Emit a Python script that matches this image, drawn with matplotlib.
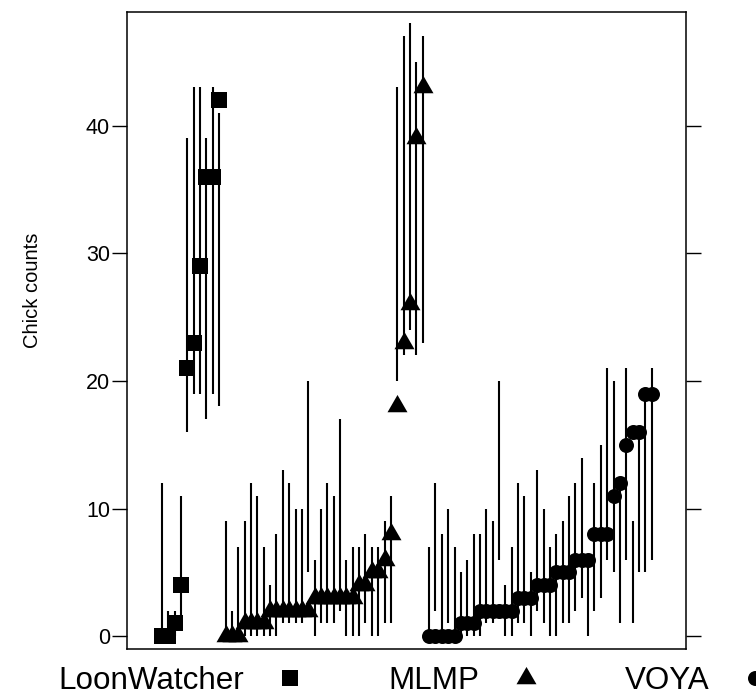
import matplotlib.pyplot as plt
import numpy as np
from matplotlib.lines import Line2D

plt.rcParams['font.family'] = ['Liberation Sans', 'DejaVu Sans']

groups = ['LoonWatcher', 'MLMP', 'VOYA']

# observed counts, sorted within group, with lower / upper interval
loon_obs = [0, 0, 1, 4, 21, 23, 29, 36, 36, 42]
loon_lo = [0, 0, 0, 1, 16, 19, 19, 17, 19, 18]
loon_hi = [12, 2, 2, 11, 39, 43, 43, 39, 43, 41]

mlmp_obs = [0, 0, 0, 1, 1, 1, 1, 2, 2, 2, 2, 2, 2, 2, 3, 3, 3, 3, 3, 3, 3,
            4, 4, 5, 5, 6, 8, 18, 23, 26, 39, 43]
mlmp_lo = [0, 0, 0, 0, 0, 0, 0, 0, 0, 1, 1, 1, 1, 5, 0, 1, 1, 1, 2, 0, 0,
           0, 1, 0, 0, 1, 1, 20, 22, 24, 22, 23]
mlmp_hi = [9, 2, 7, 9, 12, 11, 7, 4, 8, 13, 12, 10, 10, 20, 6, 10, 12, 11, 17, 6, 7,
           7, 8, 7, 7, 9, 11, 43, 47, 48, 45, 47]

voya_obs = [0, 0, 0, 0, 0, 1, 1, 1, 2, 2, 2, 2, 2, 2, 3, 3, 3, 4, 4, 4,
            5, 5, 5, 6, 6, 6, 8, 8, 8, 11, 12, 15, 16, 16, 19, 19]
voya_lo = [0, 2, 0, 1, 0, 0, 0, 0, 0, 1, 1, 6, 0, 0, 1, 1, 0, 2, 1, 0,
           0, 1, 1, 2, 3, 0, 2, 3, 6, 5, 1, 6, 1, 5, 5, 6]
voya_hi = [7, 12, 8, 10, 7, 5, 6, 8, 8, 10, 9, 20, 4, 7, 12, 11, 5, 13, 10, 7,
           8, 9, 11, 12, 14, 6, 12, 15, 21, 20, 12, 21, 9, 16, 19, 21]

yticks = [0, 10, 20, 30, 40]

# R style filled triangle (pch 17), centred on centroid
tri = [(0, 1.555), (1.347, -0.778), (-1.347, -0.778), (0, 1.555)]
markers = ['s', tri, 'o']
msizes = [11.3, 16.6, 10.8]

data = [(loon_obs, loon_lo, loon_hi), (mlmp_obs, mlmp_lo, mlmp_hi),
        (voya_obs, voya_lo, voya_hi)]

fig = plt.figure(figsize=(7.56, 7.0), dpi=100)
ax = fig.add_axes([127/756, 1 - 649/700, 559/756, 637/700])

start = 1
for (obs, lo, hi), mk, ms in zip(data, markers, msizes):
    x = np.arange(start, start + len(obs))
    ax.vlines(x, lo, hi, color='black', lw=1.5)
    ax.plot(x, obs, marker=mk, ms=ms, ls='none', color='black',
            markeredgewidth=0)
    start += len(obs)

ax.set_xlim(-4.5, 83.4)
ax.set_ylim(-1.0, 48.9)
ax.set_xticks([])
ax.set_yticks(yticks)
ax.tick_params(axis='y', direction='out', length=10.8, width=1.0,
               left=True, right=True, labelleft=True, labelright=False,
               labelsize=15.5, pad=1.5)
for s in ax.spines.values():
    s.set_linewidth(1.1)

fig.text(32/756, 1 - 290/700, 'Chick counts', rotation=90,
         ha='center', va='center', fontsize=14.5)

handles = [Line2D([], [], marker=mk, ms=ms, ls='none', color='black',
                  markeredgewidth=0) for mk, ms in zip(markers, msizes)]
fig.legend(handles, groups, ncol=3, markerfirst=False, frameon=False,
           loc='center left', bbox_to_anchor=(58/756, 1 - 681/700),
           fontsize=22.6, handlelength=1.0, handletextpad=0.97,
           columnspacing=2.65, borderpad=0, borderaxespad=0)

fig.savefig('out.png', dpi=100)
